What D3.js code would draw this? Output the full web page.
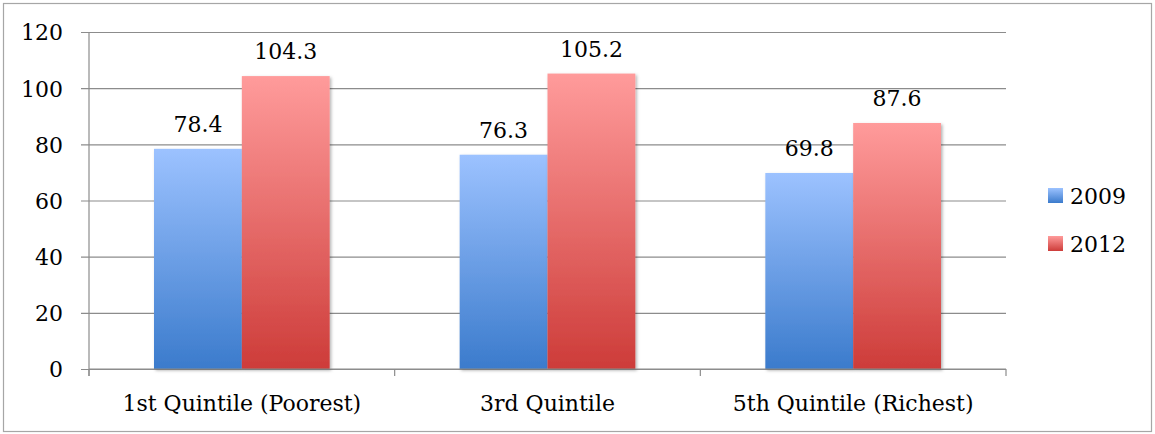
<!DOCTYPE html>
<html><head><meta charset="utf-8">
<script src="https://cdn.jsdelivr.net/npm/d3@7"></script>
<style>
body{margin:0;background:#fff;}
</style></head>
<body>
<svg id="chart" width="1155" height="434"></svg>
<script>
const categories = ["1st Quintile (Poorest)", "3rd Quintile", "5th Quintile (Richest)"];
const seriesNames = ["2009", "2012"];
const values2009 = [78.4, 76.3, 69.8];
const values2012 = [104.3, 105.2, 87.6];
const yTicks = [0, 20, 40, 60, 80, 100, 120];

const FONT = "DejaVu Serif";
const FS = 22;
const svg = d3.select("#chart").attr("font-family", FONT);
const W = 1155, H = 434;
const m = {left: 89, right: 1006, top: 32, bottom: 369};

svg.append("rect").attr("x", 3.5).attr("y", 3.5).attr("width", W - 7).attr("height", H - 6)
  .attr("fill", "#fff").attr("stroke", "#a6a6a6").attr("stroke-width", 1.2);

const defs = svg.append("defs");
const grads = [["g2009", "#9cc2ff", "#3b7bcc"], ["g2012", "#ff9b9b", "#cd3c39"]];
grads.forEach(([id, top, bot]) => {
  const g = defs.append("linearGradient").attr("id", id).attr("x1", 0).attr("y1", 0).attr("x2", 0).attr("y2", 1);
  g.append("stop").attr("offset", "0%").attr("stop-color", top);
  g.append("stop").attr("offset", "100%").attr("stop-color", bot);
});
const f = defs.append("filter").attr("id", "sh").attr("x", "-10%").attr("y", "-10%").attr("width", "130%").attr("height", "130%");
f.append("feDropShadow").attr("dx", 1.5).attr("dy", 1.5).attr("stdDeviation", 1.5).attr("flood-color", "#000").attr("flood-opacity", 0.3);

const x0 = d3.scaleBand().domain(categories).range([m.left, m.right]).paddingInner(0).paddingOuter(0);
const x1 = d3.scaleBand().domain(seriesNames).range([0, x0.bandwidth()]).paddingInner(0).paddingOuter(0.74);
const y = d3.scaleLinear().domain([0, 120]).range([m.bottom, m.top]);

// gridlines
const yAxis = d3.axisLeft(y).tickValues(yTicks).tickSize(-(m.right - m.left)).tickPadding(0).tickFormat(d3.format("d"));
const gy = svg.append("g").attr("transform", `translate(${m.left},0)`).call(yAxis);
gy.attr("font-family", FONT);
gy.select(".domain").remove();
gy.selectAll(".tick line").attr("stroke", "#8c8c8c").attr("stroke-width", 1.2).attr("x1", -8);
gy.selectAll(".tick text").attr("x", -26).attr("font-size", FS).attr("dy", "0.36em").attr("fill", "#000");

// y axis line
svg.append("line").attr("x1", m.left).attr("x2", m.left).attr("y1", m.top).attr("y2", m.bottom + 7)
  .attr("stroke", "#8c8c8c").attr("stroke-width", 1.2);

const data = categories.map((c, i) => ({cat: c, vals: [values2009[i], values2012[i]]}));
const groups = svg.append("g").selectAll("g").data(data).join("g")
  .attr("transform", d => `translate(${x0(d.cat)},0)`);
groups.selectAll("rect").data(d => d.vals.map((v, j) => ({s: seriesNames[j], v}))).join("rect")
  .attr("x", d => x1(d.s)).attr("width", x1.bandwidth())
  .attr("y", d => y(d.v)).attr("height", d => y(0) - y(d.v))
  .attr("fill", d => `url(#g${d.s})`).attr("filter", "url(#sh)");
groups.selectAll("text.val").data(d => d.vals.map((v, j) => ({s: seriesNames[j], v}))).join("text")
  .attr("class", "val").attr("text-anchor", "middle").attr("font-size", FS).attr("fill", "#000")
  .attr("x", d => x1(d.s) + x1.bandwidth() / 2).attr("y", d => y(d.v) - 17)
  .text(d => d3.format(".1f")(d.v));

// x axis
const xAxis = d3.axisBottom(x0).tickSize(0).tickPadding(0);
const gx = svg.append("g").attr("transform", `translate(0,${m.bottom})`).call(xAxis);
gx.attr("font-family", FONT);
gx.select(".domain").remove();
gx.selectAll(".tick text").attr("font-size", FS).attr("dy", 0).attr("y", 42).attr("fill", "#000");
svg.append("line").attr("x1", m.left).attr("x2", m.right).attr("y1", m.bottom).attr("y2", m.bottom)
  .attr("stroke", "#8c8c8c").attr("stroke-width", 1.2);
const boundaries = categories.map(c => x0(c)).concat([m.right]);
svg.append("g").selectAll("line").data(boundaries).join("line")
  .attr("x1", d => d).attr("x2", d => d).attr("y1", m.bottom).attr("y2", m.bottom + 7)
  .attr("stroke", "#8c8c8c").attr("stroke-width", 1.2);

// legend
const lg = svg.append("g").selectAll("g").data(seriesNames).join("g")
  .attr("transform", (d, i) => `translate(1048,${188 + i * 48})`);
lg.append("rect").attr("width", 15).attr("height", 15).attr("fill", d => `url(#g${d})`);
lg.append("text").attr("x", 22).attr("y", 16).attr("font-size", FS).attr("fill", "#000").text(d => d);
</script>
</body></html>
